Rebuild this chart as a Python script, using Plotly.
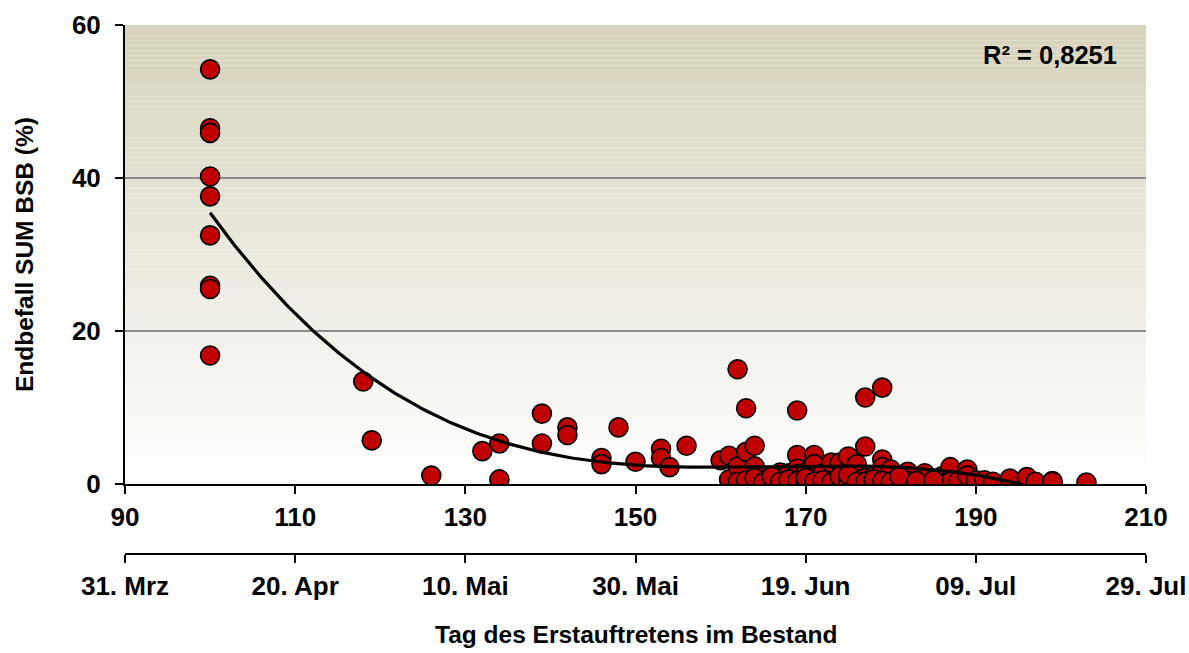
import numpy as np
import plotly.graph_objects as go

# Day of first appearance (day of year) and final infestation SUM BSB (%)
day = [
    100, 100, 100, 100, 100, 100, 100, 100, 100,
    118, 119, 126, 132, 134, 134, 139, 139, 142, 142,
    146, 146, 148, 150, 153, 153, 154, 156,
    160, 161, 161, 162, 162, 163, 163, 164, 164, 165, 166, 167, 168,
    169, 169, 169, 169, 170, 171, 171, 171, 171, 172, 173, 174, 174,
    175, 176, 176, 177, 177, 177, 178, 178, 179, 179, 179, 180,
    181, 181, 182, 182, 184, 184, 186, 187, 187, 187, 188, 189, 189,
    190, 191, 192, 194, 196, 197, 199, 199, 203,
    # fields hidden inside the dense low cluster
    162, 163, 164, 165, 166, 167, 168, 169, 170, 170, 171, 172,
    173, 174, 175, 175, 176, 177, 178, 179, 180, 181, 183, 185,
]
infest = [
    54.2, 46.5, 45.9, 40.2, 37.6, 32.5, 25.9, 25.5, 16.8,
    13.4, 5.7, 1.1, 4.3, 5.3, 0.6, 9.2, 5.3, 7.4, 6.4,
    3.4, 2.6, 7.4, 2.9, 4.6, 3.4, 2.2, 5.0,
    3.1, 3.7, 0.6, 15.0, 2.3, 9.9, 4.2, 5.0, 2.3, 0.4, 0.5, 1.5, 1.4,
    9.6, 3.8, 2.0, 1.3, 1.5, 3.8, 2.6, 1.0, 0.6, 1.4, 2.8, 0.3, 2.8,
    3.6, 2.6, 0.6, 11.3, 4.9, 0.8, 1.0, 0.3, 12.6, 3.2, 2.2, 1.9,
    0.6, 0.3, 1.6, 0.4, 1.4, 0.7, 1.0, 2.2, 0.5, 0.3, 0.5, 1.9, 1.1,
    0.5, 0.5, 0.3, 0.7, 0.9, 0.3, 0.4, 0.3, 0.2,
    0.3, 0.5, 0.8, 0.2, 1.0, 0.3, 0.6, 0.4, 0.3, 0.8, 0.3, 0.5,
    0.2, 1.0, 0.4, 1.2, 0.3, 0.3, 0.6, 0.4, 0.3, 1.0, 0.4, 0.5,
]

# Primary axis ticks (day of year) and the matching calendar dates
day_ticks = [90, 110, 130, 150, 170, 190, 210]
date_labels = ["31. Mrz", "20. Apr", "10. Mai", "30. Mai", "19. Jun", "09. Jul", "29. Jul"]
y_ticks = [0, 20, 40, 60]
r2_label = "R² = 0,8251"

FONT = "Liberation Sans, Arial, sans-serif"
TICK_FONT = dict(family=FONT, size=26, color="black", weight="bold")

# Third-order polynomial trend through the observations
coef = np.polyfit(day, infest, 3)
trend_x = np.linspace(min(day), max(day), 300)
trend_y = np.polyval(coef, trend_x)

fig = go.Figure()

fig.add_trace(go.Scatter(
    x=day, y=infest, mode="markers",
    marker=dict(size=19, color="#c00000", line=dict(color="black", width=1.6)),
    showlegend=False, hoverinfo="x+y",
))
fig.add_trace(go.Scatter(
    x=trend_x, y=trend_y, mode="lines",
    line=dict(color="black", width=3.2),
    showlegend=False, hoverinfo="skip",
))
# carrier for the calendar-date axis
fig.add_trace(go.Scatter(
    x=day, y=infest, xaxis="x2", yaxis="y", mode="markers",
    marker=dict(opacity=0), showlegend=False, hoverinfo="skip",
))

# vertical gradient backdrop of the plotting area (tan at top, white at bottom)
top = np.array([216, 211, 188])
bottom = np.array([255, 255, 255])
n_bands = 90
shapes = []
for i in range(n_bands):
    f = i / (n_bands - 1)
    c = bottom + (top - bottom) * f
    shapes.append(dict(
        type="rect", xref="x domain", yref="y",
        x0=0, x1=1, y0=60 * i / n_bands, y1=60 * (i + 1) / n_bands,
        fillcolor=f"rgb({int(c[0])},{int(c[1])},{int(c[2])})",
        line=dict(width=0), layer="below",
    ))

y_bottom = (554 - 484) / (554 - 25)

fig.update_layout(
    width=1189, height=653,
    margin=dict(l=125, r=43, t=25, b=99, autoexpand=False),
    paper_bgcolor="white", plot_bgcolor="white",
    shapes=shapes,
    xaxis=dict(
        range=[90, 210], tickvals=day_ticks, ticktext=[str(v) for v in day_ticks],
        showgrid=False, zeroline=False, automargin=False,
        showline=True, linecolor="black", linewidth=2,
        ticks="outside", ticklen=8, tickwidth=2, tickcolor="black",
        tickfont=TICK_FONT, ticklabelstandoff=1,
        anchor="y",
    ),
    xaxis2=dict(
        range=[90, 210], tickvals=day_ticks, ticktext=date_labels,
        overlaying="x", anchor="free", position=0, side="bottom",
        showgrid=False, zeroline=False, automargin=False,
        showline=True, linecolor="black", linewidth=2,
        ticks="outside", ticklen=8, tickwidth=2, tickcolor="black",
        tickfont=TICK_FONT, ticklabelstandoff=1,
    ),
    yaxis=dict(
        range=[0, 60], tickvals=y_ticks, domain=[y_bottom, 1],
        showgrid=True, gridcolor="#8c8c8c", gridwidth=1.6,
        zeroline=False, automargin=False,
        showline=True, linecolor="black", linewidth=2,
        ticks="outside", ticklen=8, tickwidth=2, tickcolor="black",
        tickfont=TICK_FONT, ticklabelstandoff=9,
    ),
    annotations=[
        dict(text="<b>" + r2_label + "</b>", xref="paper", yref="paper",
             x=(1050 - 125) / 1021, y=(554 - 55) / 529,
             xanchor="center", yanchor="middle", showarrow=False,
             font=dict(family=FONT, size=25.5, color="black")),
        dict(text="<b>Endbefall SUM BSB (%)</b>", xref="paper", yref="paper",
             x=(24 - 125) / 1021, y=(554 - 255) / 529, textangle=-90,
             xanchor="center", yanchor="middle", showarrow=False,
             font=dict(family=FONT, size=24.5, color="black")),
        dict(text="<b>Tag des Erstauftretens im Bestand</b>", xref="paper", yref="paper",
             x=(636 - 125) / 1021, y=(554 - 634) / 529,
             xanchor="center", yanchor="middle", showarrow=False,
             font=dict(family=FONT, size=24.5, color="black")),
    ],
)

fig.write_html("out.html")
